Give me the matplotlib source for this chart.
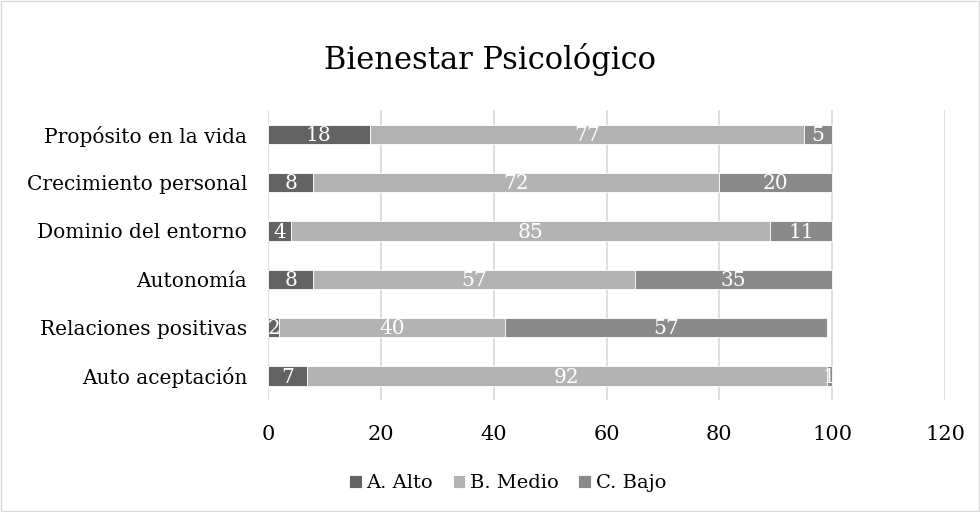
import matplotlib
matplotlib.use("Agg")
import matplotlib.pyplot as plt
from matplotlib.patches import Rectangle
import numpy as np

categories = ["Auto aceptación", "Relaciones positivas", "Autonomía",
              "Dominio del entorno", "Crecimiento personal", "Propósito en la vida"]
alto = [7, 2, 8, 4, 8, 18]
medio = [92, 40, 57, 85, 72, 77]
bajo = [1, 57, 35, 11, 20, 5]
series_names = ["A. Alto", "B. Medio", "C. Bajo"]
colors = ["#636363", "#b3b3b3", "#8a8a8a"]
xticks = [0, 20, 40, 60, 80, 100, 120]

plt.rcParams['font.family'] = ['DejaVu Serif']

fig = plt.figure(figsize=(9.8, 5.12), dpi=100)
ax = fig.add_axes([268/980, (512-400)/512, (945-268)/980, 290/512])

y = np.arange(len(categories))
left = np.zeros(len(categories))
for vals, name, col in zip([alto, medio, bajo], series_names, colors):
    bars = ax.barh(y, vals, left=left, height=0.4, color=col, label=name,
                   edgecolor="white", linewidth=0.6, zorder=3)
    for b, v, l in zip(bars, vals, left):
        ax.text(l + v / 2, b.get_y() + b.get_height() / 2 - 0.03, str(v), ha="center",
                va="center", color="white", fontsize=14.5, zorder=4)
    left = left + np.array(vals)

ax.set_xlim(0, 120)
ax.set_ylim(-0.5, len(categories) - 0.5)
ax.set_xticks(xticks)
ax.set_xticklabels([str(t) for t in xticks], fontsize=15)
ax.set_yticks(y)
ax.set_yticklabels(categories, fontsize=14.5)
ax.tick_params(length=0)
ax.tick_params(axis="y", pad=15)
ax.tick_params(axis="x", pad=18)
ax.grid(axis="x", color="#d9d9d9", linewidth=1.2, zorder=0)
for s in ax.spines.values():
    s.set_visible(False)

fig.text(0.5, 1 - 60/512, "Bienestar Psicológico", ha="center", va="center", fontsize=22)
fig.legend(loc="center", bbox_to_anchor=(0.518, 1 - 483/512), ncol=3, frameon=False,
           fontsize=14, handlelength=0.65, handleheight=0.65, handletextpad=0.25,
           columnspacing=1.0)

fig.patches.append(Rectangle((0.001, 0.001), 0.998, 0.997, transform=fig.transFigure,
                             fill=False, edgecolor="#d9d9d9", linewidth=1))
fig.savefig("out.png", dpi=100)
